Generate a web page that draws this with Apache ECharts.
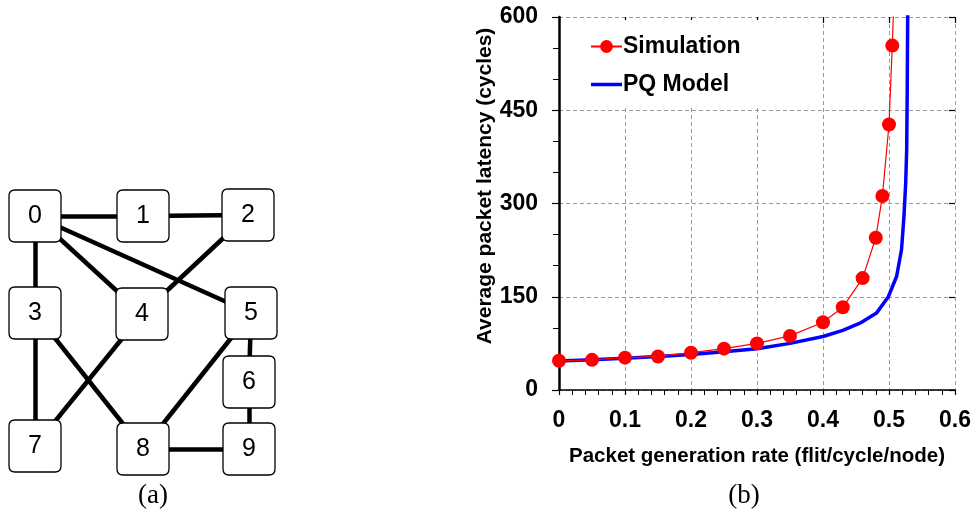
<!DOCTYPE html>
<html>
<head>
<meta charset="utf-8">
<script src="https://cdn.jsdelivr.net/npm/echarts@6/dist/echarts.min.js"></script>
<style>
  html, body { margin: 0; padding: 0; background: #fff; }
  #chart { width: 975px; height: 513px; }
</style>
</head>
<body>
<div id="chart"></div>
<script>
// ---- Panel (a): 10-node network topology ----
const nodeNames = ['0', '1', '2', '3', '4', '5', '6', '7', '8', '9'];
const nodeX = [35, 143, 248, 35, 142, 251, 249, 35, 143, 249];
const nodeY = [216, 216, 215, 313, 314, 313, 382, 446, 449, 449];
const links = [[0, 1], [1, 2], [0, 3], [0, 4], [0, 5], [2, 4], [3, 7], [4, 7], [3, 8], [5, 8], [5, 6], [6, 9], [8, 9]];

// ---- Panel (b): average packet latency vs. packet generation rate ----
const simRate    = [0, 0.05, 0.1, 0.15, 0.2, 0.25, 0.3, 0.35, 0.4, 0.43, 0.46, 0.48, 0.49, 0.5, 0.505, 0.51];
const simLatency = [47, 48.5, 52, 54, 60, 66.5, 75, 87, 109, 133, 180, 245, 312, 427, 554, 712];
const pqRate     = [0, 0.05, 0.1, 0.15, 0.2, 0.25, 0.3, 0.35, 0.4, 0.43, 0.456, 0.481, 0.499, 0.5116, 0.519, 0.5227, 0.5253, 0.5268, 0.5276, 0.5283, 0.529];
const pqLatency  = [46.5, 48.5, 51, 54, 57, 61.5, 66.5, 75, 86, 96, 107.5, 123.7, 150, 183, 226, 280, 333, 387, 480, 600, 700];
const xTickLabels = ['0', '0.1', '0.2', '0.3', '0.4', '0.5', '0.6'];
const yTickLabels = ['0', '150', '300', '450', '600'];

const SANS = '"Liberation Sans", Arial, sans-serif';
const SERIF = '"Liberation Serif", "Times New Roman", serif';

// rounded box used for the router nodes
const boxPath = 'path://M6,0 H46 Q52,0 52,6 V46 Q52,52 46,52 H6 Q0,52 0,46 V6 Q0,0 6,0 Z';
// plain line swatch for the model curve in the legend
const lineSwatch = 'path://M0,0 H31 V3.5 H0 Z';

const chart = echarts.init(document.getElementById('chart'), null, { renderer: 'canvas' });

const hiddenAxis = { show: false, axisLine: { show: false }, axisTick: { show: false }, axisLabel: { show: false }, splitLine: { show: false } };
const dashGrid = { show: true, lineStyle: { color: '#9a9a9a', width: 1, type: [4, 3] } };

chart.setOption({
  animation: false,
  backgroundColor: '#fff',
  grid: [
    { left: 0, top: 0, width: 290, height: 513, containLabel: false },
    { left: 559, top: 17, width: 396, height: 373, containLabel: false }
  ],
  xAxis: [
    Object.assign({ type: 'value', gridIndex: 0, min: 0, max: 290 }, hiddenAxis),
    {
      type: 'value', gridIndex: 1, min: 0, max: 0.6, interval: 0.1,
      axisLine: { show: true, onZero: false, lineStyle: { color: '#000', width: 1.5 } },
      axisTick: { show: true, inside: false, length: 5, lineStyle: { color: '#000', width: 1.2 } },
      minorTick: { show: true, splitNumber: 5, length: 5, lineStyle: { color: '#000', width: 1 } },
      axisLabel: {
        show: true, margin: 19, color: '#000', fontFamily: SANS, fontWeight: 'bold', fontSize: 23,
        formatter: (v) => xTickLabels[Math.round(v * 10)]
      },
      splitLine: dashGrid,
      name: 'Packet generation rate (flit/cycle/node)',
      nameLocation: 'middle', nameGap: 56,
      nameTextStyle: { color: '#000', fontFamily: SANS, fontWeight: 'bold', fontSize: 20.5 }
    },
    {
      type: 'value', gridIndex: 1, min: 0, max: 0.6, interval: 0.1,
      axisLine: { show: false, onZero: false },
      axisTick: { show: true, inside: true, length: 6, lineStyle: { color: '#000', width: 1.2 } },
      axisLabel: { show: false }, splitLine: { show: false }
    }
  ],
  yAxis: [
    Object.assign({ type: 'value', gridIndex: 0, min: 0, max: 513, inverse: true }, hiddenAxis),
    {
      type: 'value', gridIndex: 1, min: 0, max: 600, interval: 150,
      axisLine: { show: true, onZero: false, lineStyle: { color: '#000', width: 2.5 } },
      axisTick: { show: true, inside: false, length: 7, lineStyle: { color: '#000', width: 1.2 } },
      minorTick: { show: true, splitNumber: 3, length: 6, lineStyle: { color: '#000', width: 1 } },
      axisLabel: {
        show: true, margin: 21, color: '#000', fontFamily: SANS, fontWeight: 'bold', fontSize: 23,
        formatter: (v) => yTickLabels[Math.round(v / 150)]
      },
      splitLine: dashGrid
    },
    {
      type: 'value', gridIndex: 1, min: 0, max: 600, interval: 150,
      axisLine: { show: false, onZero: false },
      axisTick: { show: true, inside: true, length: 6, lineStyle: { color: '#000', width: 1.2 } },
      axisLabel: { show: false }, splitLine: { show: false }
    }
  ],
  legend: {
    data: ['Simulation', { name: 'PQ Model', icon: lineSwatch }],
    orient: 'vertical', left: 566, top: 20,
    padding: [15, 18, 11, 24], itemGap: 15,
    itemWidth: 31, itemHeight: 16,
    backgroundColor: '#fff',
    selectedMode: false,
    textStyle: { color: '#000', fontFamily: SANS, fontWeight: 'bold', fontSize: 23, padding: [0, 0, 0, -4] }
  },
  graphic: [
    { type: 'text', x: 485, y: 186, rotation: Math.PI / 2,
      style: { text: 'Average packet latency (cycles)', font: 'bold 21px ' + SANS, fill: '#000', align: 'center', verticalAlign: 'middle' } },
    { type: 'text', x: 153, y: 496,
      style: { text: '(a)', font: '27px ' + SERIF, fill: '#000', align: 'center', verticalAlign: 'middle' } },
    { type: 'text', x: 744, y: 496,
      style: { text: '(b)', font: '27px ' + SERIF, fill: '#000', align: 'center', verticalAlign: 'middle' } }
  ],
  series: [
    {
      type: 'graph',
      layout: 'none',
      coordinateSystem: 'cartesian2d',
      xAxisIndex: 0, yAxisIndex: 0,
      symbol: boxPath,
      symbolSize: 52,
      itemStyle: { color: '#fff', borderColor: '#000', borderWidth: 1.3 },
      label: { show: true, position: 'inside', color: '#000', fontFamily: SANS, fontSize: 25, formatter: '{b}' },
      lineStyle: { color: '#000', width: 4.5, opacity: 1, curveness: 0 },
      emphasis: { disabled: true },
      silent: true,
      data: nodeNames.map((n, i) => ({ name: n, value: [nodeX[i], nodeY[i]] })),
      links: links.map(([s, t]) => ({ source: s, target: t }))
    },
    {
      name: 'PQ Model',
      type: 'line',
      xAxisIndex: 1, yAxisIndex: 1,
      data: pqRate.map((r, i) => [r, pqLatency[i]]),
      symbol: 'none',
      showSymbol: false,
      clip: true,
      lineStyle: { color: '#0000ff', width: 3.5 },
      itemStyle: { color: '#0000ff' },
      z: 3
    },
    {
      name: 'Simulation',
      type: 'line',
      xAxisIndex: 1, yAxisIndex: 1,
      data: simRate.map((r, i) => [r, simLatency[i]]),
      symbol: 'circle',
      symbolSize: 14,
      clip: true,
      lineStyle: { color: '#ff0000', width: 1.2 },
      itemStyle: { color: '#ff0000' },
      z: 4
    }
  ]
});
</script>
</body>
</html>
